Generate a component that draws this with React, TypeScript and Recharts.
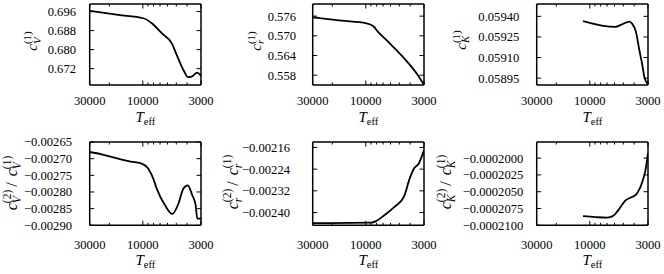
import React from 'react';
import { LineChart, Line, XAxis, YAxis } from 'recharts';

const FONT = '"Liberation Serif", "DejaVu Serif", serif';

// x axis: effective temperature, log scale, hot to cool
const teffTicks = [30000, 20000, 10000, 9000, 8000, 7000, 6000, 5000, 4000, 3000];
const teffLabels = [30000, 10000, 3000];

// c_V^(1)
const teffV1 = [30000, 16600, 9900, 8300, 6760, 5500, 4960, 4325, 3900, 3640, 3240, 3000];
const cV1 = [0.6963, 0.6946, 0.6932, 0.6911, 0.6869, 0.6827, 0.6778, 0.6715, 0.6684, 0.6686, 0.6703, 0.6689];
const yTicksV1 = [0.672, 0.68, 0.688, 0.696];

// c_r^(1)
const teffR1 = [30000, 16600, 9900, 8600, 7760, 6310, 4800, 3900, 3400, 3000];
const cR1 = [0.5756, 0.5746, 0.5738, 0.573, 0.5712, 0.5682, 0.5641, 0.5606, 0.558, 0.555];
const yTicksR1 = [0.558, 0.564, 0.57, 0.576];

// c_K^(1)
const teffK1 = [11500, 5900, 5140, 4415, 4180, 3850, 3590, 3400, 3215, 3000];
const cK1 = [0.059366, 0.059323, 0.059342, 0.059362, 0.059348, 0.059287, 0.059155, 0.059059, 0.058951, 0.058905];
const yTicksK1 = [0.05895, 0.0591, 0.05925, 0.0594];

// c_V^(2) / c_V^(1)
const teffV2 = [30000, 23400, 19000, 15450, 12160, 10230, 8920, 8050, 7500, 6310, 5430, 4800, 4325, 3950, 3590, 3350, 3240, 3000];
const ratioV = [-0.00268, -0.002687, -0.002695, -0.002703, -0.00271, -0.002715, -0.00273, -0.00276, -0.00279, -0.00284, -0.002866, -0.002836, -0.00279, -0.00278, -0.00281, -0.00284, -0.00288, -0.00288];
const yTicksV2 = [-0.0029, -0.00285, -0.0028, -0.00275, -0.0027, -0.00265];

// c_r^(2) / c_r^(1)
const teffR2 = [30000, 8920, 8050, 6760, 5500, 4540, 4030, 3680, 3340, 3000];
const ratioR = [-0.002439, -0.002437, -0.002431, -0.002409, -0.002378, -0.002341, -0.002274, -0.002237, -0.002219, -0.00217];
const yTicksR2 = [-0.0024, -0.00232, -0.00224, -0.00216];

// c_K^(2) / c_K^(1)
const teffK2 = [11500, 8920, 7000, 6100, 5430, 4800, 4240, 3850, 3350, 3170, 3000];
const ratioK = [-0.00020863, -0.00020878, -0.00020887, -0.00020853, -0.00020755, -0.00020632, -0.00020583, -0.00020544, -0.00020338, -0.0002019, -0.00019926];
const yTicksK2 = [-0.00021, -0.0002075, -0.000205, -0.0002025, -0.0002];

const zip = (t: number[], v: number[]) => t.map((x, i) => ({ t: x, v: v[i] }));

const fmt = (d: number) => (val: number) => val.toFixed(d).replace('-', '\u2212');

const panels = [
  { data: zip(teffV1, cV1), ticks: yTicksV1, domain: [0.6651, 0.6992], f: fmt(3), box: { l: 89.7, r: 201, t: 4, b: 85 }, gap: 13.7, lab: 20.3 },
  { data: zip(teffR1, cR1), ticks: yTicksR1, domain: [0.555, 0.5797], f: fmt(3), box: { l: 312.7, r: 424, t: 4, b: 85 }, gap: 16.7, lab: 20.3 },
  { data: zip(teffK1, cK1), ticks: yTicksK1, domain: [0.0589, 0.05949], f: fmt(5), box: { l: 536.7, r: 648, t: 4, b: 85 }, gap: 17.4, lab: 20.3 },
  { data: zip(teffV2, ratioV), ticks: yTicksV2, domain: [-0.0029, -0.00265], f: fmt(5), box: { l: 89.7, r: 201, t: 142, b: 225.3 }, gap: 17.7, lab: 24 },
  { data: zip(teffR2, ratioR), ticks: yTicksR2, domain: [-0.002447, -0.00214], f: fmt(5), box: { l: 312.7, r: 424, t: 142, b: 225.3 }, gap: 22.7, lab: 24 },
  { data: zip(teffK2, ratioK), ticks: yTicksK2, domain: [-0.00021, -0.0001976], f: fmt(7), box: { l: 536.7, r: 648, t: 142, b: 225.3 }, gap: 13.4, lab: 24 },
];

const titles = [
  { x: 37, y: 41, sub: 'V', ratio: false },
  { x: 260.5, y: 41, sub: 'r', ratio: false },
  { x: 465.5, y: 40, sub: 'K', ratio: false },
  { x: 17, y: 183, sub: 'V', ratio: true },
  { x: 237.5, y: 182, sub: 'r', ratio: true },
  { x: 451, y: 182, sub: 'K', ratio: true },
];

const subWidth: Record<string, number> = { V: 0.611, r: 0.389, K: 0.667 };

const XTick = (props: any) => {
  const { x, y, payload, side, lab } = props;
  const major = teffLabels.includes(payload.value);
  const len = major ? 4.5 : 2.5;
  const dir = side === 'bottom' ? -1 : 1;
  return (
    <g>
      <line x1={x} x2={x} y1={y} y2={y + dir * len} stroke="#000" strokeWidth={1} />
      {side === 'bottom' && major && (
        <text x={x} y={y + lab} textAnchor="middle" fontFamily={FONT} fontSize={12.6} fill="#000">
          {payload.value}
        </text>
      )}
    </g>
  );
};

const YTick = (props: any) => {
  const { x, y, payload, side, gap, f } = props;
  const dir = side === 'left' ? 1 : -1;
  return (
    <g>
      <line x1={x} x2={x + dir * 4.5} y1={y} y2={y} stroke="#000" strokeWidth={1} />
      {side === 'left' && (
        <text x={x - gap} y={y} dy="0.35em" textAnchor="end" fontFamily={FONT} fontSize={12.6} fill="#000">
          {f(payload.value)}
        </text>
      )}
    </g>
  );
};

const Part = ({ sub, n, big, small }: { sub: string; n: number; big: number; small: number }) => (
  <>
    <tspan fontStyle="italic" fontSize={big}>c</tspan>
    <tspan fontStyle="italic" fontSize={small} dy={0.25 * big}>{sub}</tspan>
    <tspan fontSize={small} dx={-subWidth[sub] * small} dy={-0.65 * big}>({n})</tspan>
  </>
);

const YTitle = ({ x, y, sub, ratio }: { x: number; y: number; sub: string; ratio: boolean }) => {
  const big = ratio ? 16 : 15;
  const small = ratio ? 11.5 : 11;
  return (
    <text x={x} y={y} textAnchor="middle" transform={`rotate(-90 ${x} ${y})`} fontFamily={FONT} fill="#000">
      <Part sub={sub} n={ratio ? 2 : 1} big={big} small={small} />
      {ratio && (
        <>
          <tspan fontSize={big} dy={0.4 * big} dx={3}>/</tspan>
          <tspan dx={2}> </tspan>
          <Part sub={sub} n={1} big={big} small={small} />
        </>
      )}
    </text>
  );
};

const axisLine = { stroke: '#000', strokeWidth: 1.5 };

const Panel = ({ p }: { p: (typeof panels)[number] }) => {
  const { box } = p;
  return (
    <div style={{ position: 'absolute', left: 0, top: 0 }}>
      <LineChart
        width={664}
        height={274}
        data={p.data}
        margin={{ left: box.l - 1, right: 664 - box.r - 1, top: box.t - 1, bottom: 274 - box.b - 1 }}
      >
        <XAxis
          xAxisId="b"
          dataKey="t"
          type="number"
          scale="log"
          domain={[3000, 30000]}
          reversed
          allowDataOverflow
          ticks={teffTicks}
          interval={0}
          height={1}
          tickSize={0}
          tickMargin={0}
          tickLine={false}
          axisLine={axisLine}
          tick={(tp: any) => <XTick {...tp} side="bottom" lab={p.lab} />}
        />
        <XAxis
          xAxisId="t"
          orientation="top"
          dataKey="t"
          type="number"
          scale="log"
          domain={[3000, 30000]}
          reversed
          allowDataOverflow
          ticks={teffTicks}
          interval={0}
          height={1}
          tickSize={0}
          tickMargin={0}
          tickLine={false}
          axisLine={axisLine}
          tick={(tp: any) => <XTick {...tp} side="top" />}
        />
        <YAxis
          yAxisId="l"
          type="number"
          domain={p.domain}
          allowDataOverflow
          ticks={p.ticks}
          interval={0}
          width={1}
          tickSize={0}
          tickMargin={0}
          tickLine={false}
          axisLine={axisLine}
          tick={(tp: any) => <YTick {...tp} side="left" gap={p.gap} f={p.f} />}
        />
        <YAxis
          yAxisId="r"
          orientation="right"
          type="number"
          domain={p.domain}
          allowDataOverflow
          ticks={p.ticks}
          interval={0}
          width={1}
          tickSize={0}
          tickMargin={0}
          tickLine={false}
          axisLine={axisLine}
          tick={(tp: any) => <YTick {...tp} side="right" />}
        />
        <Line
          xAxisId="b"
          yAxisId="l"
          dataKey="v"
          type="monotone"
          stroke="#000"
          strokeWidth={1.8}
          dot={false}
          isAnimationActive={false}
        />
      </LineChart>
    </div>
  );
};

export default function App() {
  return (
    <div style={{ position: 'absolute', left: 0, top: 0, width: 664, height: 274, background: '#fff' }}>
      {panels.map((p, i) => (
        <Panel key={i} p={p} />
      ))}
      <svg width={664} height={274} style={{ position: 'absolute', left: 0, top: 0, overflow: 'visible' }}>
        {titles.map((t, i) => (
          <YTitle key={i} {...t} />
        ))}
        {panels.map((p, i) => (
          <text
            key={`teff-${i}`}
            x={(p.box.l + p.box.r) / 2}
            y={p.box.b + (i < 3 ? 36.7 : 40)}
            textAnchor="middle"
            fontFamily={FONT}
            fill="#000"
          >
            <tspan fontStyle="italic" fontSize={15}>T</tspan>
            <tspan fontSize={10.5} dy={3}>eff</tspan>
          </text>
        ))}
      </svg>
    </div>
  );
}
